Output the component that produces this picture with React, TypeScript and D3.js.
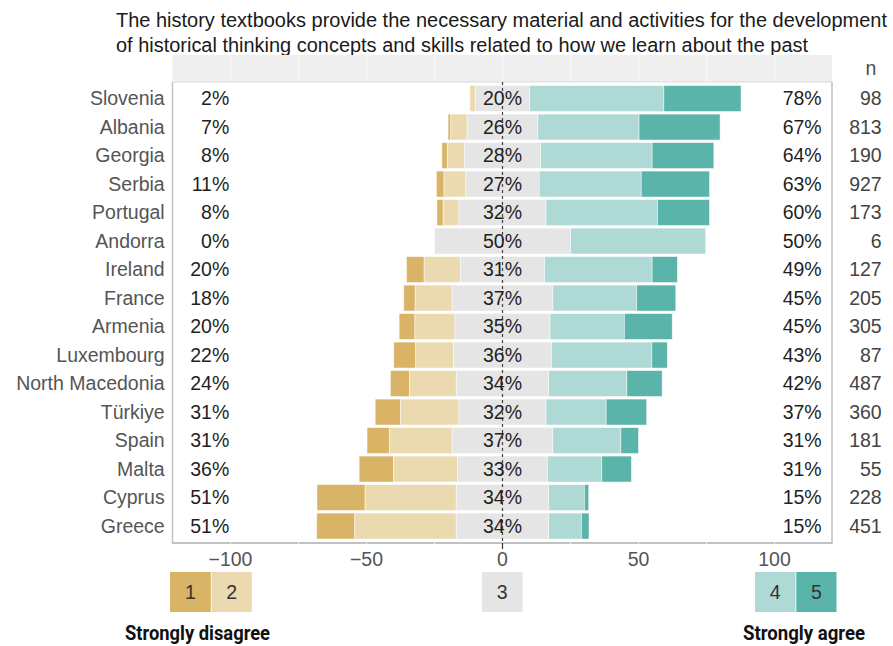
import React from "react";
import * as d3 from "d3";

// ---- data ----
const countries = [
  "Slovenia", "Albania", "Georgia", "Serbia", "Portugal", "Andorra", "Ireland", "France",
  "Armenia", "Luxembourg", "North Macedonia", "Türkiye", "Spain", "Malta", "Cyprus", "Greece",
];
const stronglyDisagree = [0, 1, 2, 2.8, 2.3, 0, 6.5, 4.2, 5.8, 8.1, 7, 9.3, 8.2, 12.6, 17.7, 14];
const disagree = [2, 6, 6.3, 8, 5.8, 0, 13.3, 13.6, 14.7, 13.9, 17.2, 21.5, 23.1, 23.6, 33.5, 37.3];
const neutral = [20, 26, 28, 27, 32, 50, 31, 37, 35, 36, 34, 32, 37, 33, 34, 34];
const agree = [49.3, 37.2, 41, 37.5, 41, 49.7, 39.5, 30.8, 27.3, 36.9, 28.7, 22.1, 25, 20, 13.1, 12];
const stronglyAgree = [28.4, 29.8, 22.7, 25.1, 19.1, 0, 9.3, 14.4, 17.6, 5.7, 13, 14.9, 6.5, 10.9, 1.6, 2.8];

const leftLabels = ["2%", "7%", "8%", "11%", "8%", "0%", "20%", "18%", "20%", "22%", "24%", "31%", "31%", "36%", "51%", "51%"];
const midLabels = ["20%", "26%", "28%", "27%", "32%", "50%", "31%", "37%", "35%", "36%", "34%", "32%", "37%", "33%", "34%", "34%"];
const rightLabels = ["78%", "67%", "64%", "63%", "60%", "50%", "49%", "45%", "45%", "43%", "42%", "37%", "31%", "31%", "15%", "15%"];
const nValues = [98, 813, 190, 927, 173, 6, 127, 205, 305, 87, 487, 360, 181, 55, 228, 451];

const xTicks = [-100, -50, 0, 50, 100];
const gridValues = [-125, -100, -75, -50, -25, 0, 25, 50, 75, 100, 125];
const legendLevels = ["1", "2", "3", "4", "5"];
const titleLines = [
  "The history textbooks provide the necessary material and activities for the development",
  "of historical thinking concepts and skills related to how we learn about the past",
];
const titleWidths = [771, 692];

const colors = ["#D9B366", "#EBD9AF", "#E5E5E5", "#AED9D4", "#5BB4AA"];

const W = 893;
const H = 646;
const panelL = 172.5;
const panelR = 832;
const panelTop = 82;
const panelBottom = 543;
const stripTop = 55;

const FONT = "'Liberation Sans', Arial, Helvetica, sans-serif";
const TITLE_SX = 0.86;

export default function App() {
  const x = d3.scaleLinear().domain([-100, 100]).range([230.5, 774.5]);
  const y = d3
    .scaleBand<string>()
    .domain(countries)
    .range([84.3, 540.3])
    .paddingInner(0.09)
    .paddingOuter(0.045);
  const bw = y.bandwidth();

  const rows = countries.map((c, i) => {
    const half = neutral[i] / 2;
    const segs = [
      [-(half + disagree[i] + stronglyDisagree[i]), -(half + disagree[i])],
      [-(half + disagree[i]), -half],
      [-half, half],
      [half, half + agree[i]],
      [half + agree[i], half + agree[i] + stronglyAgree[i]],
    ];
    return { c, i, segs };
  });

  const legendBoxes = [
    { x0: 170, x1: 210.8 },
    { x0: 211.6, x1: 251.8 },
    { x0: 482, x1: 522.5 },
    { x0: 755, x1: 795.5 },
    { x0: 796.3, x1: 836.5 },
  ];

  return (
    <svg width={W} height={H} style={{ position: "absolute", left: 0, top: 0, background: "#fff" }}>
      <rect x={0} y={0} width={W} height={H} fill="#fff" />
      {/* title */}
      {titleLines.map((t, k) => (
        <g key={k} transform={`translate(116,${27 + k * 25}) scale(${TITLE_SX},1)`}>
          <text
            x={0}
            y={0}
            fontFamily={FONT}
            fontSize={21}
            fill="#1a1a1a"
            textLength={titleWidths[k] / TITLE_SX}
            lengthAdjust="spacingAndGlyphs"
          >
            {t}
          </text>
        </g>
      ))}

      {/* strip */}
      <rect x={panelL} y={stripTop} width={panelR - panelL} height={panelTop - stripTop} fill="#EFEFEF" />
      {gridValues.map((g) => (
        <line key={"sg" + g} x1={x(g)} x2={x(g)} y1={stripTop} y2={panelTop} stroke="#fff" strokeOpacity={0.55} strokeWidth={1} />
      ))}
      <line x1={panelL} x2={panelR} y1={panelTop} y2={panelTop} stroke="#DADADA" strokeWidth={1} />
      <text x={871} y={75} textAnchor="middle" fontFamily={FONT} fontSize={19.5} fill="#4d4d4d">
        n
      </text>

      {/* bars */}
      {rows.map((r) =>
        r.segs.map((s, j) =>
          s[1] - s[0] > 0.001 ? (
            <rect
              key={r.c + j}
              x={x(s[0])}
              y={y(r.c)!}
              width={x(s[1]) - x(s[0])}
              height={bw}
              fill={colors[j]}
              stroke="#fff"
              strokeOpacity={0.6}
              strokeWidth={0.8}
            />
          ) : null
        )
      )}

      {/* panel frame */}
      <line x1={panelL} x2={panelL} y1={panelTop} y2={panelBottom} stroke="#C2C2C2" strokeWidth={1.5} />
      <line x1={panelR} x2={panelR} y1={panelTop} y2={panelBottom} stroke="#C2C2C2" strokeWidth={1.5} />
      <line x1={panelL - 0.75} x2={panelR + 0.75} y1={panelBottom} y2={panelBottom} stroke="#C2C2C2" strokeWidth={2} />
      {gridValues.map((g) => (
        <line key={"bg" + g} x1={x(g)} x2={x(g)} y1={panelBottom - 1.5} y2={panelBottom + 1.5} stroke="#fff" strokeOpacity={0.7} strokeWidth={1} />
      ))}

      {/* zero dashed line */}
      <line
        x1={x(0)}
        x2={x(0)}
        y1={panelTop}
        y2={panelBottom}
        stroke="#444"
        strokeWidth={1.2}
        strokeDasharray="3,3"
      />
      <line x1={x(0)} x2={x(0)} y1={panelBottom} y2={panelBottom + 6} stroke="#333" strokeWidth={1.2} />

      {/* row labels */}
      {rows.map((r) => {
        const cy = y(r.c)! + bw / 2;
        return (
          <g key={"lab" + r.c} fontFamily={FONT} fontSize={19.5}>
            <text x={164.7} y={cy} dy="0.35em" textAnchor="end" fill="#555">
              {r.c}
            </text>
            <text x={229.3} y={cy} dy="0.35em" textAnchor="end" fill="#1f1f1f">
              {leftLabels[r.i]}
            </text>
            <text x={x(0)} y={cy} dy="0.35em" textAnchor="middle" fill="#1f1f1f">
              {midLabels[r.i]}
            </text>
            <text x={821.7} y={cy} dy="0.35em" textAnchor="end" fill="#1f1f1f">
              {rightLabels[r.i]}
            </text>
            <text x={881.7} y={cy} dy="0.35em" textAnchor="end" fill="#444">
              {nValues[r.i]}
            </text>
          </g>
        );
      })}

      {/* x axis tick labels */}
      {xTicks.map((t) => (
        <text
          key={"t" + t}
          x={x(t)}
          y={566}
          textAnchor="middle"
          fontFamily={FONT}
          fontSize={19.5}
          fill="#555"
        >
          {t < 0 ? "\u2212" + Math.abs(t) : String(t)}
        </text>
      ))}

      {/* legend */}
      {legendLevels.map((l, k) => {
        const b = legendBoxes[k];
        return (
          <g key={"lg" + l}>
            <rect x={b.x0} y={572} width={b.x1 - b.x0} height={40} fill={colors[k]} />
            <text
              x={(b.x0 + b.x1) / 2}
              y={592}
              dy="0.35em"
              textAnchor="middle"
              fontFamily={FONT}
              fontSize={19.5}
              fill="#333"
            >
              {l}
            </text>
          </g>
        );
      })}
      <text
        x={197.5}
        y={640}
        textAnchor="middle"
        fontFamily="Roboto, 'Liberation Sans', sans-serif"
        fontWeight="bold"
        fontSize={20}
        fill="#111"
        textLength={145}
        lengthAdjust="spacingAndGlyphs"
      >
        Strongly disagree
      </text>
      <text
        x={804}
        y={640}
        textAnchor="middle"
        fontFamily="Roboto, 'Liberation Sans', sans-serif"
        fontWeight="bold"
        fontSize={20}
        fill="#111"
        textLength={122}
        lengthAdjust="spacingAndGlyphs"
      >
        Strongly agree
      </text>
    </svg>
  );
}
